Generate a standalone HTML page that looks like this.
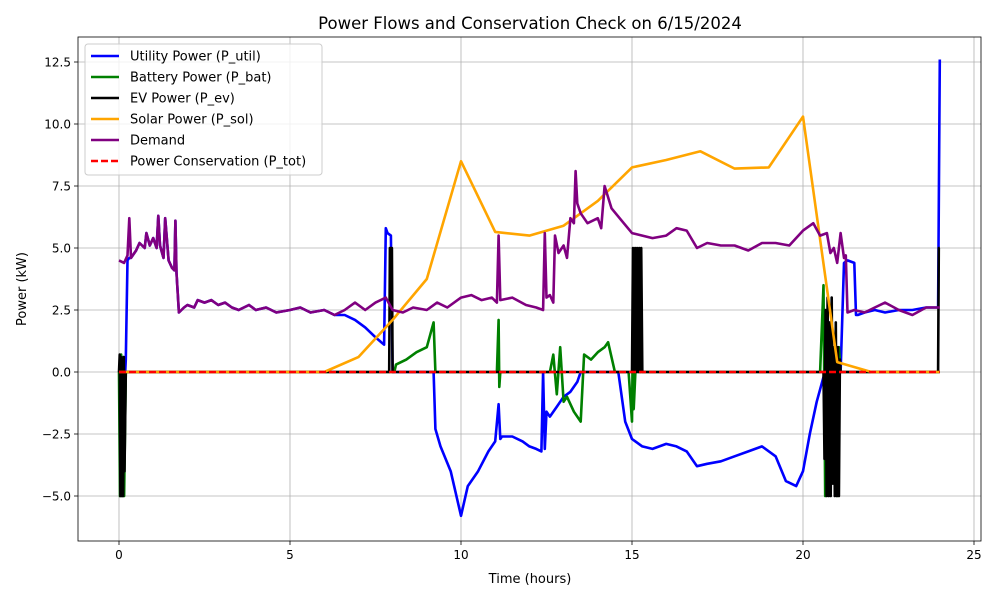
<!DOCTYPE html>
<html><head><meta charset="utf-8"><style>
body{margin:0;background:#fff;font-family:"Liberation Sans","DejaVu Sans",sans-serif}
svg text{font-family:"DejaVu Sans","Liberation Sans",sans-serif}
</style></head><body>
<svg id="chart" width="1000" height="600" viewBox="0 0 1000 600" xmlns="http://www.w3.org/2000/svg">
<rect width="1000" height="600" fill="#fff"/>
<text x="530" y="29" text-anchor="middle" font-size="16.5">Power Flows and Conservation Check on 6/15/2024</text>
<g id="grid"></g><g id="series"></g><g id="axes"></g>
<text x="530" y="583" text-anchor="middle" font-size="13">Time (hours)</text>
<text transform="translate(26,289) rotate(-90)" text-anchor="middle" font-size="13">Power (kW)</text>
<g id="legend"></g>
</svg>
<script>
const xTicks=[0,5,10,15,20,25];
const yTicks=[-5,-2.5,0,2.5,5,7.5,10,12.5];
const yTickLabels=["−5.0","−2.5","0.0","2.5","5.0","7.5","10.0","12.5"];
const solarT=[0,6,7,8,9,10,11,12,13,14,15,16,17,18,19,20,21,22,23,24];
const solarV=[0,0,0.6,2.1,3.75,8.5,5.65,5.5,5.9,6.9,8.25,8.55,8.9,8.2,8.25,10.3,0.4,0,0,0];
const demandT=[0,0.15,0.25,0.3,0.35,0.5,0.6,0.75,0.8,0.9,1.0,1.1,1.15,1.2,1.3,1.35,1.45,1.55,1.62,1.65,1.68,1.75,1.9,2.0,2.2,2.3,2.5,2.7,2.9,3.1,3.3,3.5,3.8,4.0,4.3,4.6,5.0,5.3,5.6,6.0,6.3,6.6,6.9,7.2,7.5,7.8,8.0,8.3,8.6,9.0,9.3,9.6,10.0,10.3,10.6,10.9,11.05,11.1,11.15,11.5,11.9,12.2,12.4,12.45,12.5,12.6,12.7,12.75,12.85,13.0,13.1,13.2,13.3,13.35,13.4,13.5,13.7,14.0,14.1,14.2,14.4,14.7,15.0,15.3,15.6,16.0,16.3,16.6,16.9,17.2,17.6,18.0,18.4,18.8,19.2,19.6,20.0,20.3,20.5,20.7,20.8,20.9,21.0,21.1,21.2,21.25,21.3,21.5,21.8,22.1,22.4,22.8,23.2,23.6,24.0];
const demandV=[4.5,4.4,4.7,6.2,4.6,4.9,5.2,5.0,5.6,5.1,5.4,5.0,6.3,5.1,4.6,6.2,4.5,4.2,4.1,6.1,4.0,2.4,2.6,2.7,2.6,2.9,2.8,2.9,2.7,2.8,2.6,2.5,2.7,2.5,2.6,2.4,2.5,2.6,2.4,2.5,2.3,2.5,2.8,2.5,2.8,3.0,2.5,2.4,2.6,2.5,2.8,2.6,3.0,3.1,2.9,3.0,2.8,5.5,2.9,3.0,2.7,2.6,2.5,5.6,3.0,3.1,2.8,5.5,4.8,5.1,4.6,6.2,6.0,8.1,6.8,6.4,6.0,6.2,5.8,7.5,6.6,6.1,5.6,5.5,5.4,5.5,5.8,5.7,5.0,5.2,5.1,5.1,4.9,5.2,5.2,5.1,5.7,6.0,5.5,5.6,4.8,5.0,4.4,5.6,4.6,4.7,2.4,2.5,2.4,2.6,2.8,2.5,2.3,2.6,2.6];
const utilT=[0,0.18,0.2,0.25,0.3,0.35,0.5,0.6,0.75,0.8,0.9,1.0,1.1,1.15,1.2,1.3,1.35,1.45,1.55,1.62,1.65,1.68,1.75,1.9,2.0,2.2,2.3,2.5,2.7,2.9,3.1,3.3,3.5,3.8,4.0,4.3,4.6,5.0,5.3,5.6,6.0,6.3,6.6,6.9,7.2,7.5,7.75,7.8,7.85,7.95,8.0,8.3,8.6,9.0,9.2,9.25,9.4,9.7,10.0,10.2,10.5,10.8,11.0,11.1,11.15,11.2,11.5,11.8,12.0,12.2,12.35,12.4,12.45,12.5,12.6,12.8,13.0,13.2,13.4,13.5,14.0,14.5,14.6,14.8,15.0,15.3,15.6,16.0,16.3,16.6,16.9,17.2,17.6,18.0,18.4,18.8,19.2,19.5,19.8,20.0,20.2,20.4,20.6,20.9,21.0,21.1,21.2,21.3,21.5,21.55,21.6,21.8,22.1,22.4,22.8,23.2,23.6,23.9,23.95,24.0];
const utilV=[0,0,0.5,4.5,4.6,4.6,4.9,5.2,5.0,5.6,5.1,5.4,5.0,6.3,5.1,4.6,6.2,4.5,4.2,4.1,6.1,4.0,2.4,2.6,2.7,2.6,2.9,2.8,2.9,2.7,2.8,2.6,2.5,2.7,2.5,2.6,2.4,2.5,2.6,2.4,2.5,2.3,2.3,2.1,1.8,1.4,1.1,5.8,5.6,5.5,0,0,0,0,0,-2.3,-3.0,-4.0,-5.8,-4.6,-4.0,-3.2,-2.8,-1.3,-2.7,-2.6,-2.6,-2.8,-3.0,-3.1,-3.2,0,-3.1,-1.6,-1.8,-1.4,-1.0,-0.8,-0.4,0,0,0,0,-2.0,-2.7,-3.0,-3.1,-2.9,-3.0,-3.2,-3.8,-3.7,-3.6,-3.4,-3.2,-3.0,-3.4,-4.4,-4.6,-4.0,-2.5,-1.2,-0.2,0,0,0,4.4,4.5,4.4,2.3,2.3,2.4,2.5,2.4,2.5,2.5,2.6,2.6,2.6,12.6];
const batT=[0,0.03,0.06,0.09,0.12,0.15,0.2,7.9,8.05,8.1,8.4,8.7,9.0,9.1,9.2,9.25,11.05,11.1,11.12,11.15,12.6,12.7,12.8,12.9,13.0,13.1,13.3,13.5,13.6,13.8,14.0,14.2,14.3,14.5,14.9,15.0,15.02,15.05,15.1,20.5,20.6,20.65,20.7,20.8,20.9,21.0,21.05,21.1,24.0];
const batV=[0,-5,0.7,-5,0.6,-5,0,0,0,0.3,0.5,0.8,1.0,1.5,2.0,0,0,2.1,-0.6,0,0,0.7,-0.9,1.0,-1.2,-1.0,-1.6,-2.0,0.7,0.5,0.8,1.0,1.2,0,0,-2.0,0.9,-1.5,0,0,3.5,-5,1.0,-4.5,1.0,-5,1.0,0,0];
const evT=[0,0.02,0.04,0.06,0.08,0.1,0.12,0.14,0.16,0.2,7.9,7.92,7.98,8.0,15.0,15.03,15.06,15.09,15.12,15.15,15.18,15.21,15.24,15.27,15.3,20.6,20.63,20.66,20.69,20.72,20.75,20.78,20.81,20.84,20.87,20.9,20.93,20.96,20.99,21.02,21.05,21.08,21.1,23.95,23.97,24.0];
const evV=[0,0.7,-5,0.6,-5,0.5,-5,0.6,-4,0,0,5,5,0,0,5,0,5,0,5,0,5,0,5,0,0,-3.5,2.5,-5,3,-5,2,-5,3,-4.5,1,-5,2,-5,1,-5,0.5,0,0,5,5];
const totT=[0,24];
const totV=[0,0];

const NS="http://www.w3.org/2000/svg";
const L=78,R=981,T=37,B=541;
function X(h){return 119+h*34.2;}
function Y(v){return 372-v*24.8;}
function mk(tag,attrs,parent){const e=document.createElementNS(NS,tag);for(const k in attrs)e.setAttribute(k,attrs[k]);parent.appendChild(e);return e;}
const grid=document.getElementById('grid'),axes=document.getElementById('axes'),series=document.getElementById('series');
xTicks.forEach(t=>{
  const g=mk('line',{x1:X(t),x2:X(t),y1:T,y2:B,stroke:'#b0b0b0','stroke-width':0.8},grid);
  
  
  mk('line',{x1:X(t),x2:X(t),y1:B,y2:B+4,stroke:'#000','stroke-width':0.8},axes);
  const tx=mk('text',{x:X(t),y:B+18,'text-anchor':'middle','font-size':12},axes);
  tx.textContent=String(t);
  
  
});
yTicks.forEach((t,i)=>{
  const g=mk('line',{x1:L,x2:R,y1:Y(t),y2:Y(t),stroke:'#b0b0b0','stroke-width':0.8},grid);
  
  
  mk('line',{x1:L-4,x2:L,y1:Y(t),y2:Y(t),stroke:'#000','stroke-width':0.8},axes);
  const tx=mk('text',{x:L-7,y:Y(t)+4.5,'text-anchor':'end','font-size':12},axes);
  tx.textContent=yTickLabels[i];
  
  
});
const frame=mk('rect',{x:L,y:T,width:R-L,height:B-T,fill:'none',stroke:'#000','stroke-width':0.8},axes);


function line(ts,vs,color,name,dash){
  const d=ts.map((t,i)=>(i?'L':'M')+X(t).toFixed(1)+','+Y(vs[i]).toFixed(1)).join('');
  const p=mk('path',{d:d,fill:'none',stroke:color,'stroke-width':2.6,'stroke-linejoin':'round'},series);
  if(dash)p.setAttribute('stroke-dasharray',dash);
  
  
}
line(utilT,utilV,'#0000ff','utility-power-line');
line(batT,batV,'#008000','battery-power-line');
line(evT,evV,'#000000','ev-power-line');
line(solarT,solarV,'#ffa500','solar-power-line');
line(demandT,demandV,'#800080','demand-line');
line(totT,totV,'#ff0000','power-conservation-line','7,3');
const lg=document.getElementById('legend');
const box=mk('rect',{x:85,y:44,width:237,height:131,rx:3,fill:'#fff','fill-opacity':0.8,stroke:'#ccc','stroke-width':1},lg);


const legNames=['Utility Power (P_util)','Battery Power (P_bat)','EV Power (P_ev)','Solar Power (P_sol)','Demand','Power Conservation (P_tot)'];
const legColors=['#0000ff','#008000','#000000','#ffa500','#800080','#ff0000'];
legNames.forEach((n,i)=>{
  const y=56+i*21;
  const ln=mk('line',{x1:91,x2:119,y1:y,y2:y,stroke:legColors[i],'stroke-width':2.6},lg);
  if(i==5)ln.setAttribute('stroke-dasharray','7,3');
  
  
  const tx=mk('text',{x:130,y:y+4.5,'font-size':13},lg);
  tx.textContent=n;
  
  
});
</script>
</body></html>
